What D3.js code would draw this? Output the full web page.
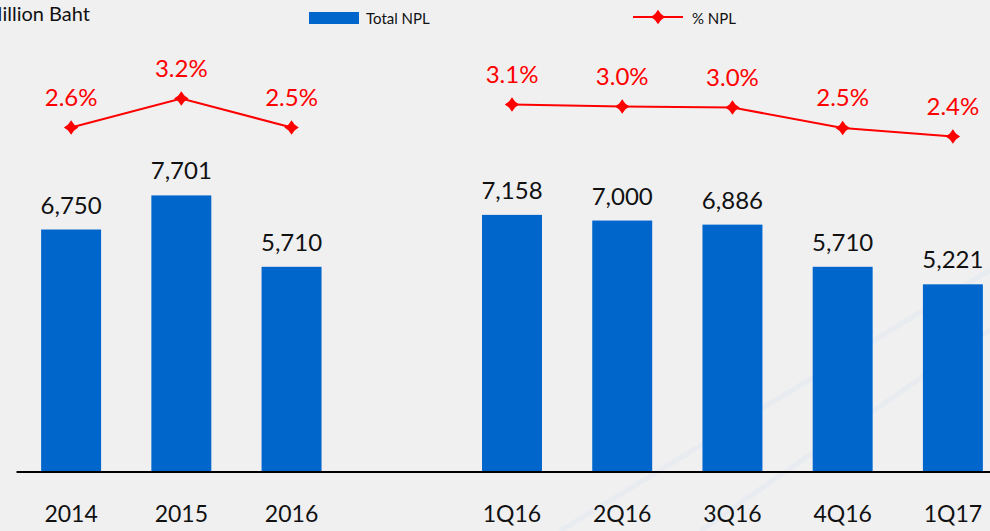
<!DOCTYPE html>
<html>
<head>
<meta charset="utf-8">
<script src="https://cdn.jsdelivr.net/npm/d3@7"></script>
<style>
  body { margin: 0; background: #efefef; }
  svg { display: block; font-family: Lato, "Noto Sans", sans-serif; }
</style>
</head>
<body>
<svg id="chart" width="990" height="531"></svg>
<script>
// categories, "" is the empty gap slot between the yearly and quarterly groups
var categories = ["2014", "2015", "2016", "", "1Q16", "2Q16", "3Q16", "4Q16", "1Q17"];
var npl = [6750, 7701, 5710, null, 7158, 7000, 6886, 5710, 5221];
var nplPct = [2.58, 3.16, 2.58, null, 3.04, 3.0, 2.98, 2.57, 2.40];
var nplPctLabels = ["2.6%", "3.2%", "2.5%", "", "3.1%", "3.0%", "3.0%", "2.5%", "2.4%"];

var svg = d3.select("#chart");
var W = 990, H = 531;

// background with faint diagonal streaks
svg.append("rect").attr("width", W).attr("height", H).attr("fill", "#f0f0f1");
var streaks = [[560, 531, 990, 270], [700, 531, 990, 330]];
svg.selectAll(".streak").data(streaks).enter().append("line")
  .attr("x1", function(d){ return d[0]; }).attr("y1", function(d){ return d[1]; })
  .attr("x2", function(d){ return d[2]; }).attr("y2", function(d){ return d[3]; })
  .attr("stroke", "#e4e9f0").attr("stroke-width", 5).attr("opacity", 0.6);

var x = d3.scaleBand()
  .domain(categories.map(function(c, i){ return i; }))
  .range([16, 1008])
  .paddingInner(0.456)
  .paddingOuter(0.228);

var y = d3.scaleLinear().domain([0, 10000]).range([471.5, 113]);
var yPct = d3.scaleLinear().domain([0, 5]).range([256.5, 6.5]);

var blue = "#0066cc", red = "#ff0000";

// 4 point star marker, like the office chart marker
var star4 = {
  draw: function(ctx, size) {
    var r = Math.sqrt(size) * 0.85, k = r * 0.42;
    ctx.moveTo(0, -r);
    ctx.lineTo(k, -k); ctx.lineTo(r, 0); ctx.lineTo(k, k);
    ctx.lineTo(0, r); ctx.lineTo(-k, k); ctx.lineTo(-r, 0); ctx.lineTo(-k, -k);
    ctx.closePath();
  }
};
var marker = d3.symbol().type(star4).size(72);

// bars
var idx = d3.range(categories.length).filter(function(i){ return npl[i] != null; });
svg.selectAll(".bar").data(idx).enter().append("rect")
  .attr("x", function(i){ return x(i); })
  .attr("y", function(i){ return y(npl[i]); })
  .attr("width", x.bandwidth())
  .attr("height", function(i){ return y(0) - y(npl[i]); })
  .attr("fill", blue);

svg.selectAll(".vlab").data(idx).enter().append("text")
  .attr("x", function(i){ return x(i) + x.bandwidth() / 2; })
  .attr("y", function(i){ return y(npl[i]) - 16; })
  .attr("text-anchor", "middle")
  .attr("font-size", 24)
  .attr("fill", "#111")
  .text(function(i){ return d3.format(",")(npl[i]); });

// x axis
var axis = d3.axisBottom(x).tickSize(0).tickPadding(34)
  .tickFormat(function(i){ return categories[i]; });
var gx = svg.append("g").attr("transform", "translate(0," + y(0) + ")").call(axis);
gx.select(".domain").attr("stroke", "#000").attr("stroke-width", 2);
gx.selectAll("text").attr("font-size", 23).attr("fill", "#111")
  .attr("font-family", "Lato, 'Noto Sans', sans-serif");

// % NPL line, broken at the gap
var line = d3.line()
  .defined(function(i){ return nplPct[i] != null; })
  .x(function(i){ return x(i) + x.bandwidth() / 2; })
  .y(function(i){ return yPct(nplPct[i]); });

svg.append("path").datum(d3.range(categories.length))
  .attr("d", line)
  .attr("fill", "none").attr("stroke", red).attr("stroke-width", 2);

svg.selectAll(".mark").data(idx).enter().append("path")
  .attr("d", marker)
  .attr("transform", function(i){
    return "translate(" + (x(i) + x.bandwidth() / 2) + "," + yPct(nplPct[i]) + ")";
  })
  .attr("fill", red);

svg.selectAll(".plab").data(idx).enter().append("text")
  .attr("x", function(i){ return x(i) + x.bandwidth() / 2; })
  .attr("y", function(i){ return yPct(nplPct[i]) - 22; })
  .attr("text-anchor", "middle")
  .attr("font-size", 24)
  .attr("fill", red)
  .text(function(i){ return nplPctLabels[i]; });

// unit label (cut by the left edge, as in the source slide)
svg.append("text").attr("x", 90).attr("y", 21).attr("text-anchor", "end")
  .attr("font-size", 20).attr("fill", "#111").text("Million Baht");

// legend
var lg = svg.append("g");
lg.append("rect").attr("x", 309).attr("y", 12).attr("width", 50).attr("height", 12).attr("fill", blue);
lg.append("text").attr("x", 366).attr("y", 24).attr("font-size", 15).attr("fill", "#111").text("Total NPL");
lg.append("line").attr("x1", 633).attr("x2", 683).attr("y1", 17).attr("y2", 17)
  .attr("stroke", red).attr("stroke-width", 2);
lg.append("path").attr("d", marker).attr("transform", "translate(658,17)").attr("fill", red);
lg.append("text").attr("x", 692).attr("y", 24).attr("font-size", 15).attr("fill", "#111").text("% NPL");
</script>
</body>
</html>
